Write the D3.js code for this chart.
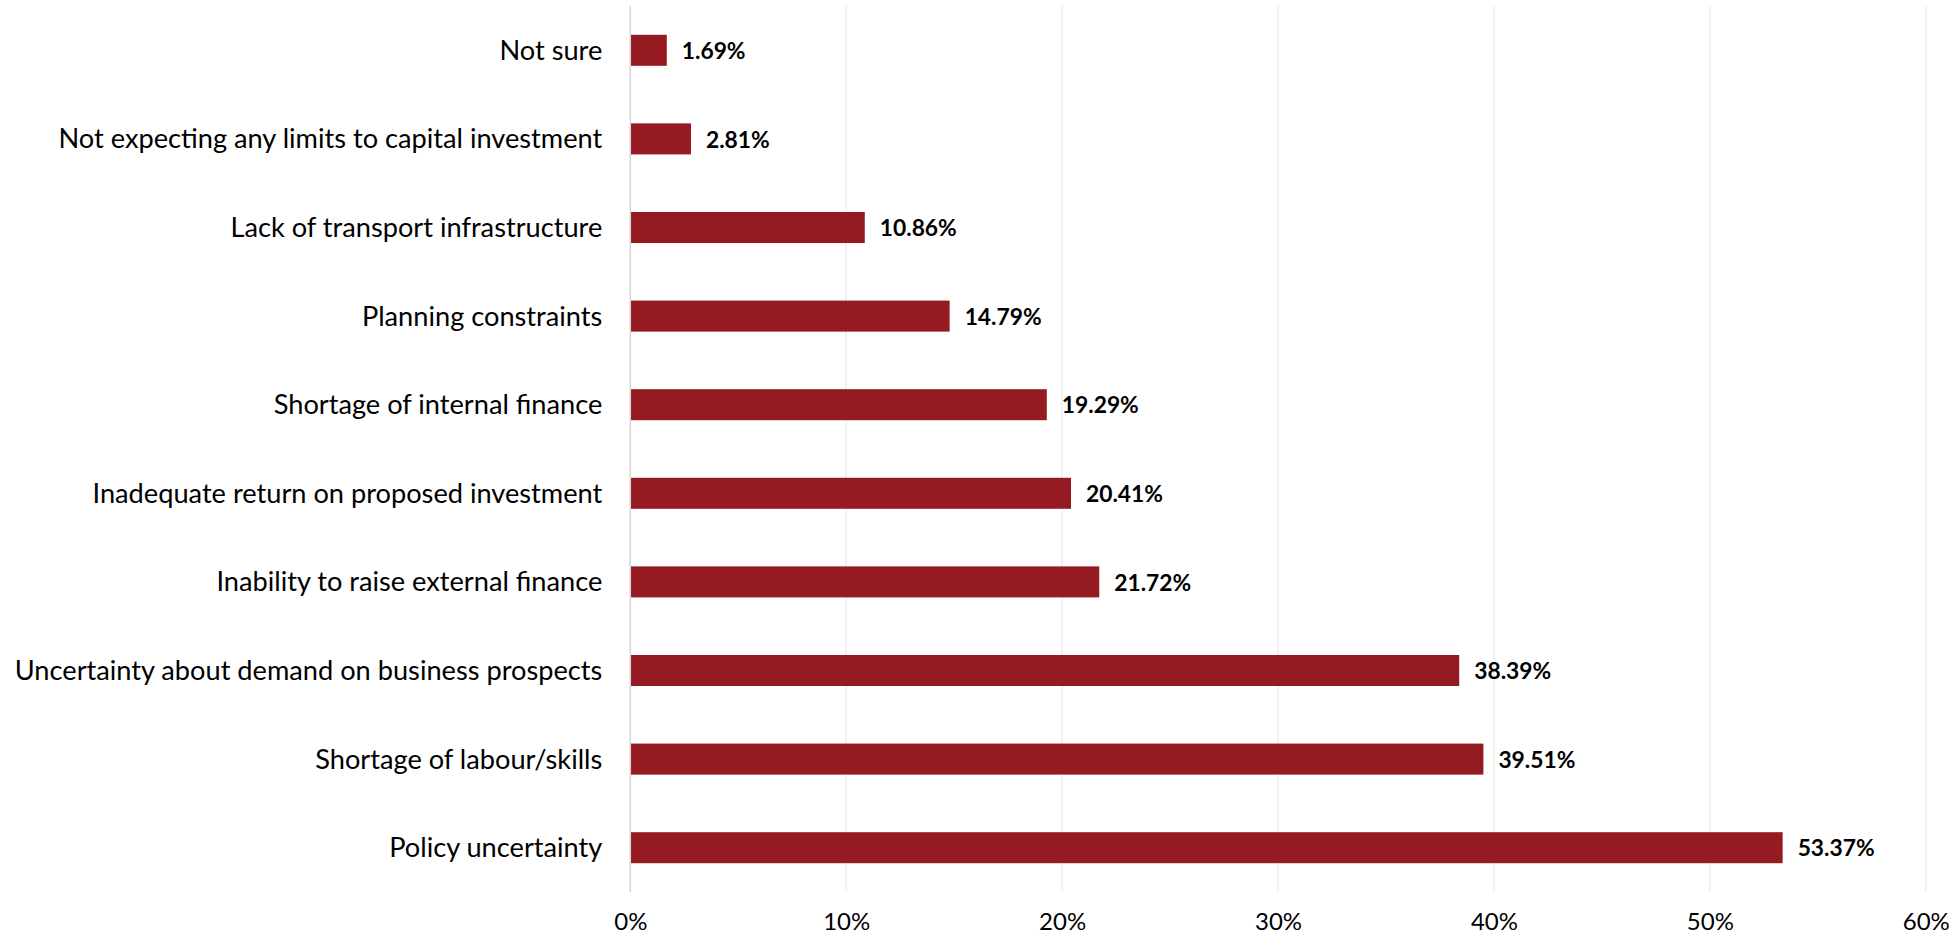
<!DOCTYPE html>
<html>
<head>
<meta charset="utf-8">
<script src="https://cdn.jsdelivr.net/npm/d3@7"></script>
<style>
  html, body { margin: 0; padding: 0; background: #ffffff; }
  svg { display: block; }
  text { font-family: Lato, "Open Sans", sans-serif; }
</style>
</head>
<body>
<svg id="chart" width="1954" height="936"></svg>
<script>
// Constraints on capital investment, share of respondents (%)
const categories = [
  "Not sure",
  "Not expecting any limits to capital investment",
  "Lack of transport infrastructure",
  "Planning constraints",
  "Shortage of internal finance",
  "Inadequate return on proposed investment",
  "Inability to raise external finance",
  "Uncertainty about demand on business prospects",
  "Shortage of labour/skills",
  "Policy uncertainty"
];
const values = [1.69, 2.81, 10.86, 14.79, 19.29, 20.41, 21.72, 38.39, 39.51, 53.37];
const tickValues = [0, 10, 20, 30, 40, 50, 60];
const tickLabels = ["0%", "10%", "20%", "30%", "40%", "50%", "60%"];

const data = categories.map((c, i) => ({ category: c, value: values[i] }));

const svg = d3.select("#chart");
const plotLeft = 630.3, plotRight = 1925.8, plotTop = 6, plotBottom = 892;

const x = d3.scaleLinear().domain([0, 60]).range([plotLeft, plotRight]);
const y = d3.scaleBand()
  .domain(categories)
  .range([plotTop, plotBottom])
  .paddingInner(0.65)
  .paddingOuter(0.325);

// Vertical gridlines
svg.append("g")
  .selectAll("line")
  .data(tickValues.filter(t => t > 0))
  .join("line")
  .attr("x1", d => x(d)).attr("x2", d => x(d))
  .attr("y1", plotTop).attr("y2", plotBottom)
  .attr("stroke", "#ebebeb")
  .attr("stroke-width", 1.3);

// Bars
svg.append("g")
  .selectAll("rect")
  .data(data)
  .join("rect")
  .attr("x", x(0))
  .attr("y", d => y(d.category))
  .attr("width", d => x(d.value) - x(0))
  .attr("height", y.bandwidth())
  .attr("fill", "#951a22");

// Baseline at 0%
svg.append("line")
  .attr("x1", x(0)).attr("x2", x(0))
  .attr("y1", plotTop).attr("y2", plotBottom)
  .attr("stroke", "#d6d6d6")
  .attr("stroke-width", 1.5);

// Value labels
svg.append("g")
  .selectAll("text")
  .data(data)
  .join("text")
  .attr("x", d => x(d.value) + 15)
  .attr("y", d => y(d.category) + y.bandwidth() / 2)
  .attr("dy", "0.38em")
  .attr("font-size", 22.8)
  .attr("font-weight", 700)
  .attr("fill", "#000")
  .text(d => d.value.toFixed(2) + "%");

// Category axis labels
const yAxis = d3.axisLeft(y).tickSize(0).tickPadding(28);
const gy = svg.append("g")
  .attr("transform", `translate(${x(0)},0)`)
  .call(yAxis);
gy.select(".domain").remove();
gy.selectAll("text")
  .attr("font-family", "Lato, 'Open Sans', sans-serif")
  .attr("font-size", 27.2)
  .attr("fill", "#000")
  .attr("dy", "0.35em");

// Percentage axis labels
const xAxis = d3.axisBottom(x)
  .tickValues(tickValues)
  .tickFormat((d, i) => tickLabels[i])
  .tickSize(0)
  .tickPadding(21);
const gx = svg.append("g")
  .attr("transform", `translate(0,${plotBottom})`)
  .call(xAxis);
gx.select(".domain").remove();
gx.selectAll("text")
  .attr("font-family", "Lato, 'Open Sans', sans-serif")
  .attr("font-size", 24)
  .attr("fill", "#000");
</script>
</body>
</html>
